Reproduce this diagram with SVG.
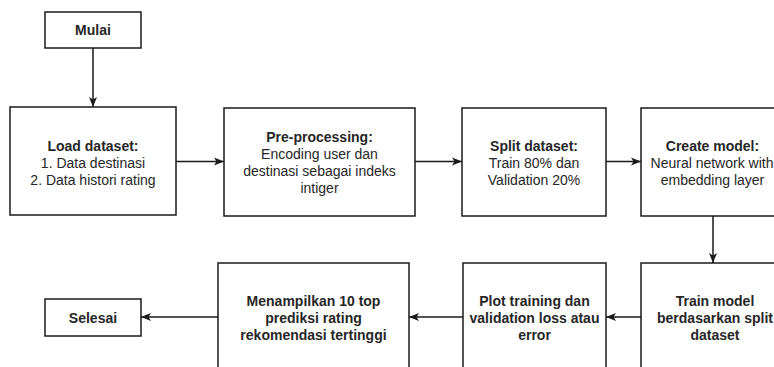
<svg xmlns="http://www.w3.org/2000/svg" width="774" height="367" viewBox="0 0 774 367">
  <style>
    .box { fill: #ffffff; stroke: #1a1a1a; stroke-width: 1.5; }
    .t { font-family: "Liberation Sans", Arial, Helvetica, sans-serif; font-size: 14px; fill: #262626; text-anchor: middle; }
    .b { font-weight: bold; }
    .edge { fill: none; stroke: #1a1a1a; stroke-width: 1.5; }
  </style>
  <defs>
    <marker id="arr" markerUnits="userSpaceOnUse" markerWidth="10" markerHeight="10" viewBox="0 0 10 10" refX="10" refY="5" orient="auto">
      <path d="M0,1 L10,5 L0,9 L2.5,5 z" fill="#1a1a1a"/>
    </marker>
  </defs>
  <rect width="774" height="367" fill="#ffffff"/>

  <g id="connectors">
    <line class="edge" x1="93" y1="48" x2="93" y2="107" marker-end="url(#arr)"/>
    <line class="edge" x1="176" y1="161.5" x2="224" y2="161.5" marker-end="url(#arr)"/>
    <line class="edge" x1="415" y1="161.5" x2="462" y2="161.5" marker-end="url(#arr)"/>
    <line class="edge" x1="606" y1="161.5" x2="641" y2="161.5" marker-end="url(#arr)"/>
    <line class="edge" x1="713" y1="216" x2="713" y2="263" marker-end="url(#arr)"/>
    <line class="edge" x1="641" y1="317" x2="606" y2="317" marker-end="url(#arr)"/>
    <line class="edge" x1="463" y1="317" x2="409" y2="317" marker-end="url(#arr)"/>
    <line class="edge" x1="218" y1="317" x2="141" y2="317" marker-end="url(#arr)"/>
  </g>

  <g id="mulai">
    <rect class="box" x="45" y="12" width="96" height="36"/>
    <text class="t b" x="93" y="35">Mulai</text>
  </g>

  <g id="load-dataset">
    <rect class="box" x="10" y="107" width="166" height="108"/>
    <text class="t b" x="93" y="150.5">Load dataset:</text>
    <text class="t" x="93" y="167.5">1. Data destinasi</text>
    <text class="t" x="93" y="184.5">2. Data histori rating</text>
  </g>

  <g id="pre-processing">
    <rect class="box" x="224" y="108" width="191" height="108"/>
    <text class="t b" x="319.5" y="141.5">Pre-processing:</text>
    <text class="t" x="319.5" y="158.5">Encoding user dan</text>
    <text class="t" x="319.5" y="175.5">destinasi sebagai indeks</text>
    <text class="t" x="319.5" y="192.5">intiger</text>
  </g>

  <g id="split-dataset">
    <rect class="box" x="462" y="108" width="144" height="108"/>
    <text class="t b" x="534" y="150.5">Split dataset:</text>
    <text class="t" x="534" y="167.5">Train 80% dan</text>
    <text class="t" x="534" y="184.5">Validation 20%</text>
  </g>

  <g id="create-model">
    <rect class="box" x="641" y="108" width="144" height="108"/>
    <text class="t b" x="712.5" y="150.5">Create model:</text>
    <text class="t" x="712" y="167.5">Neural network with</text>
    <text class="t" x="712.5" y="184.5">embedding layer</text>
  </g>

  <g id="train-model">
    <rect class="box" x="641" y="263" width="148" height="108"/>
    <text class="t b" x="715" y="306">Train model</text>
    <text class="t b" x="715" y="323">berdasarkan split</text>
    <text class="t b" x="715" y="340">dataset</text>
  </g>

  <g id="plot-training">
    <rect class="box" x="463" y="263" width="143" height="108"/>
    <text class="t b" x="534.5" y="306">Plot training dan</text>
    <text class="t b" x="534.5" y="323">validation loss atau</text>
    <text class="t b" x="534.5" y="340">error</text>
  </g>

  <g id="menampilkan">
    <rect class="box" x="218" y="263" width="191" height="108"/>
    <text class="t b" x="313.5" y="306">Menampilkan 10 top</text>
    <text class="t b" x="313.5" y="323">prediksi rating</text>
    <text class="t b" x="313.5" y="340">rekomendasi tertinggi</text>
  </g>

  <g id="selesai">
    <rect class="box" x="45" y="299" width="96" height="37"/>
    <text class="t b" x="93" y="322.5">Selesai</text>
  </g>
</svg>
